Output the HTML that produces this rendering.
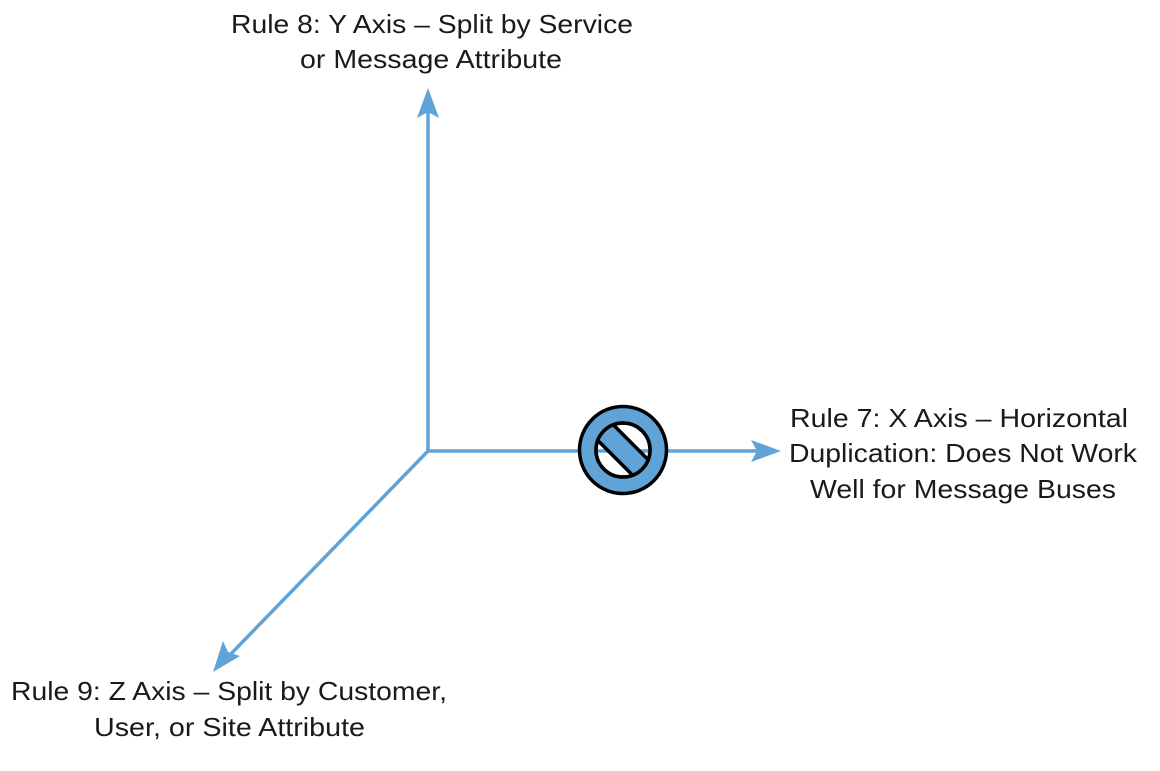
<!DOCTYPE html>
<html><head><meta charset="utf-8"><style>
html,body{margin:0;padding:0;background:#fff;}
body{width:1160px;height:766px;overflow:hidden;}
svg text{font-family:"Liberation Sans",Arial,sans-serif;font-size:26px;fill:#1a1a1a;}
</style></head><body>
<svg width="1160" height="766" viewBox="0 0 1160 766" xmlns="http://www.w3.org/2000/svg">
<defs><clipPath id="ic"><circle cx="623" cy="450" r="27"/></clipPath></defs>
<g stroke="#5fa3d7" stroke-width="3.5" fill="none">
<line x1="428" y1="451" x2="428" y2="105"/>
<line x1="426" y1="451" x2="765" y2="451"/>
<line x1="429" y1="450" x2="225" y2="660"/>
</g>
<g fill="#5fa3d7">
<polygon points="428,88 439,118 428,112 417,118"/>
<polygon points="781,451 751,440 757,451 751,462"/>
<polygon points="213,672 223,641 228,652 240,656"/>
</g>
<circle cx="623" cy="450" r="43.5" fill="#5fa3d7" stroke="#000" stroke-width="3.5"/>
<circle cx="623" cy="450" r="27" fill="#fff" stroke="#000" stroke-width="3.5"/>
<line x1="596" y1="451" x2="650" y2="451" stroke="#5fa3d7" stroke-width="3.5" clip-path="url(#ic)"/>
<g clip-path="url(#ic)">
<polygon points="586.9,429.5 643.5,486.1 658.9,470.5 602.5,413.9" fill="#5fa3d7" stroke="#000" stroke-width="3.5"/>
</g>
<circle cx="623" cy="450" r="27" fill="none" stroke="#000" stroke-width="3.5"/>
<g>
<text x="231" y="33" textLength="402" lengthAdjust="spacingAndGlyphs">Rule 8: Y Axis – Split by Service</text>
<text x="300" y="68" textLength="262" lengthAdjust="spacingAndGlyphs">or Message Attribute</text>
<text x="790" y="427" textLength="338" lengthAdjust="spacingAndGlyphs">Rule 7: X Axis – Horizontal</text>
<text x="789" y="462" textLength="348" lengthAdjust="spacingAndGlyphs">Duplication: Does Not Work</text>
<text x="810" y="498" textLength="306" lengthAdjust="spacingAndGlyphs">Well for Message Buses</text>
<text x="11" y="700" textLength="436" lengthAdjust="spacingAndGlyphs">Rule 9: Z Axis – Split by Customer,</text>
<text x="94" y="736" textLength="271" lengthAdjust="spacingAndGlyphs">User, or Site Attribute</text>
</g>
</svg>
</body></html>
